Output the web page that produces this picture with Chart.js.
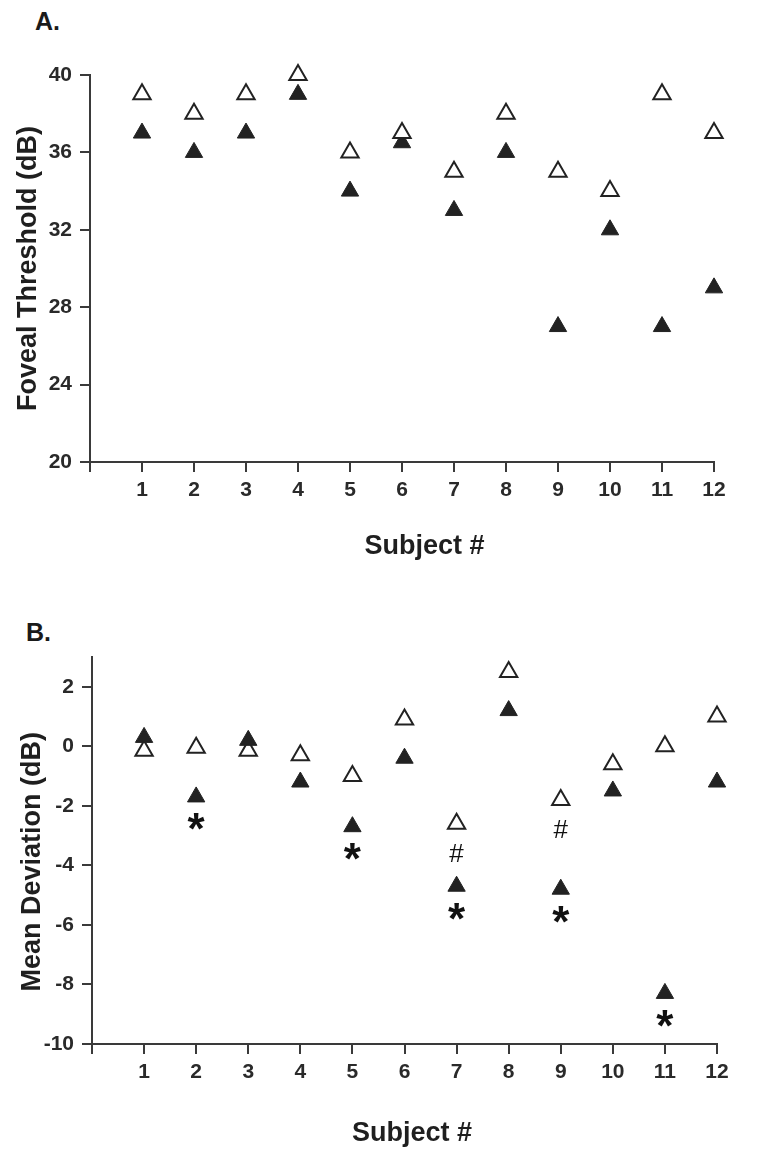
<!DOCTYPE html>
<html>
<head>
<meta charset="utf-8">
<script src="https://cdn.jsdelivr.net/npm/chart.js@4.4.1/dist/chart.umd.min.js"></script>
<style>
  body { margin: 0; background: #fff; width: 767px; height: 1167px; position: relative; overflow: hidden; }
  .panel { position: absolute; left: 0; width: 767px; }
  .tag { position: absolute; font: bold 25px "Liberation Sans", Arial, sans-serif; color: #1a1a1a; line-height: 28px; }
</style>
</head>
<body>
<div class="tag" style="left:35px; top:7px">A.</div>
<div class="panel" style="top:0; height:600px"><canvas id="chartA" width="767" height="600"></canvas></div>
<div class="tag" style="left:26px; top:618px">B.</div>
<div class="panel" style="top:600px; height:567px"><canvas id="chartB" width="767" height="567"></canvas></div>
<script>
// data
const subjects = [1, 2, 3, 4, 5, 6, 7, 8, 9, 10, 11, 12];
const xTicks = [0, 1, 2, 3, 4, 5, 6, 7, 8, 9, 10, 11, 12];
const xTickLabels = ["", "1", "2", "3", "4", "5", "6", "7", "8", "9", "10", "11", "12"];

// A. foveal threshold (dB)
const openFoveal = [39, 38, 39, 40, 36, 37, 35, 38, 35, 34, 39, 37];
const filledFoveal = [37, 36, 37, 39, 34, 36.5, 33, 36, 27, 32, 27, 29];
const fovealTicks = [20, 24, 28, 32, 36, 40];

// B. mean deviation (dB)
const openMD = [-0.15, -0.05, -0.15, -0.3, -1.0, 0.9, -2.6, 2.5, -1.8, -0.6, 0, 1.0];
const filledMD = [0.3, -1.7, 0.2, -1.2, -2.7, -0.4, -4.7, 1.2, -4.8, -1.5, -8.3, -1.2];
const mdTicks = [-10, -8, -6, -4, -2, 0, 2];

// significance marks (subject numbers)
const starSubjects = [2, 5, 7, 9, 11];
const hashSubjects = [7, 9];

const FONT = '"Liberation Sans", Arial, sans-serif';
const INK = "#222";
const AXIS = "#3a3a3a";

function points(values) {
  return subjects.map((s, i) => ({ x: s, y: values[i] }));
}

function openSet(values, order) {
  return {
    label: "open",
    data: points(values),
    showLine: false,
    pointStyle: "triangle",
    pointRadius: 10,
    pointBackgroundColor: "#fff",
    pointBorderColor: INK,
    pointBorderWidth: 2,
    order: order,
    clip: false,
  };
}

function filledSet(values, order) {
  return {
    label: "filled",
    data: points(values),
    showLine: false,
    pointStyle: "triangle",
    pointRadius: 10,
    pointBackgroundColor: INK,
    pointBorderColor: INK,
    pointBorderWidth: 1,
    order: order,
    clip: false,
  };
}

function xAxis(height, titlePad, titleText) {
  return {
    type: "linear",
    min: 0,
    max: 12,
    afterBuildTicks: (scale) => {
      scale.ticks = xTicks.map((v) => ({ value: v }));
    },
    afterFit: (scale) => {
      scale.height = height;
    },
    border: { display: true, color: AXIS, width: 2 },
    grid: { drawOnChartArea: false, drawTicks: true, tickLength: 10, color: AXIS, lineWidth: 2 },
    ticks: {
      autoSkip: false,
      maxRotation: 0,
      padding: 6,
      color: "#2a2a2a",
      font: { family: FONT, size: 21, weight: "bold" },
      callback: (v, i) => xTickLabels[i],
    },
    title: {
      display: true,
      text: titleText,
      color: "#1f1f1f",
      font: { family: FONT, size: 27, weight: "bold" },
      padding: { top: 0, bottom: titlePad },
    },
  };
}

function yAxis(min, max, ticks, width, titlePad, titleText) {
  return {
    type: "linear",
    min: min,
    max: max,
    afterBuildTicks: (scale) => {
      scale.ticks = ticks.map((v) => ({ value: v }));
    },
    afterFit: (scale) => {
      scale.width = width;
    },
    border: { display: true, color: AXIS, width: 2 },
    grid: { drawOnChartArea: false, drawTicks: true, tickLength: 10, color: AXIS, lineWidth: 2 },
    ticks: {
      padding: 8,
      color: "#2a2a2a",
      font: { family: FONT, size: 21, weight: "bold" },
      callback: (v) => String(v),
    },
    title: {
      display: true,
      text: titleText,
      color: "#1f1f1f",
      font: { family: FONT, size: 27, weight: "bold" },
      padding: { top: titlePad, bottom: 0 },
    },
  };
}

// draws * and # under the marked subjects in panel B
function drawGlyphs(ctx, chart, glyph, font, list, values, offset) {
  const { x, y } = chart.scales;
  ctx.font = font;
  const m = ctx.measureText(glyph);
  const shift = (m.actualBoundingBoxAscent - m.actualBoundingBoxDescent) / 2;
  list.forEach((s) => {
    const px = x.getPixelForValue(s);
    const py = y.getPixelForValue(values[s - 1]) + offset;
    ctx.fillText(glyph, px, py + shift);
  });
}

const marksPlugin = {
  id: "marks",
  afterDatasetsDraw(chart) {
    const ctx = chart.ctx;
    ctx.save();
    ctx.fillStyle = "#111";
    ctx.textAlign = "center";
    ctx.textBaseline = "alphabetic";
    drawGlyphs(ctx, chart, "*", "bold 44px " + FONT, starSubjects, filledMD, 25);
    drawGlyphs(ctx, chart, "#", "26px " + FONT, hashSubjects, openMD, 29);
    ctx.restore();
  },
};

const common = {
  responsive: false,
  animation: false,
  events: [],
  plugins: { legend: { display: false }, tooltip: { enabled: false } },
};

new Chart(document.getElementById("chartA"), {
  type: "scatter",
  data: {
    datasets: [openSet(openFoveal, 0), filledSet(filledFoveal, 1)],
  },
  options: {
    ...common,
    layout: { padding: { top: 75, right: 53, bottom: 0, left: 0 } },
    scales: {
      x: xAxis(138, 37, "      Subject #"),
      y: yAxis(20, 40, fovealTicks, 90, 12, "Foveal Threshold (dB)"),
    },
  },
});

new Chart(document.getElementById("chartB"), {
  type: "scatter",
  data: {
    datasets: [openSet(openMD, 1), filledSet(filledMD, 0)],
  },
  options: {
    ...common,
    layout: { padding: { top: 57, right: 50, bottom: 0, left: 0 } },
    scales: {
      x: xAxis(123, 17, "  Subject #"),
      y: yAxis(-10, 3, mdTicks, 92, 16, "Mean Deviation (dB)   "),
    },
  },
  plugins: [marksPlugin],
});
</script>
</body>
</html>
